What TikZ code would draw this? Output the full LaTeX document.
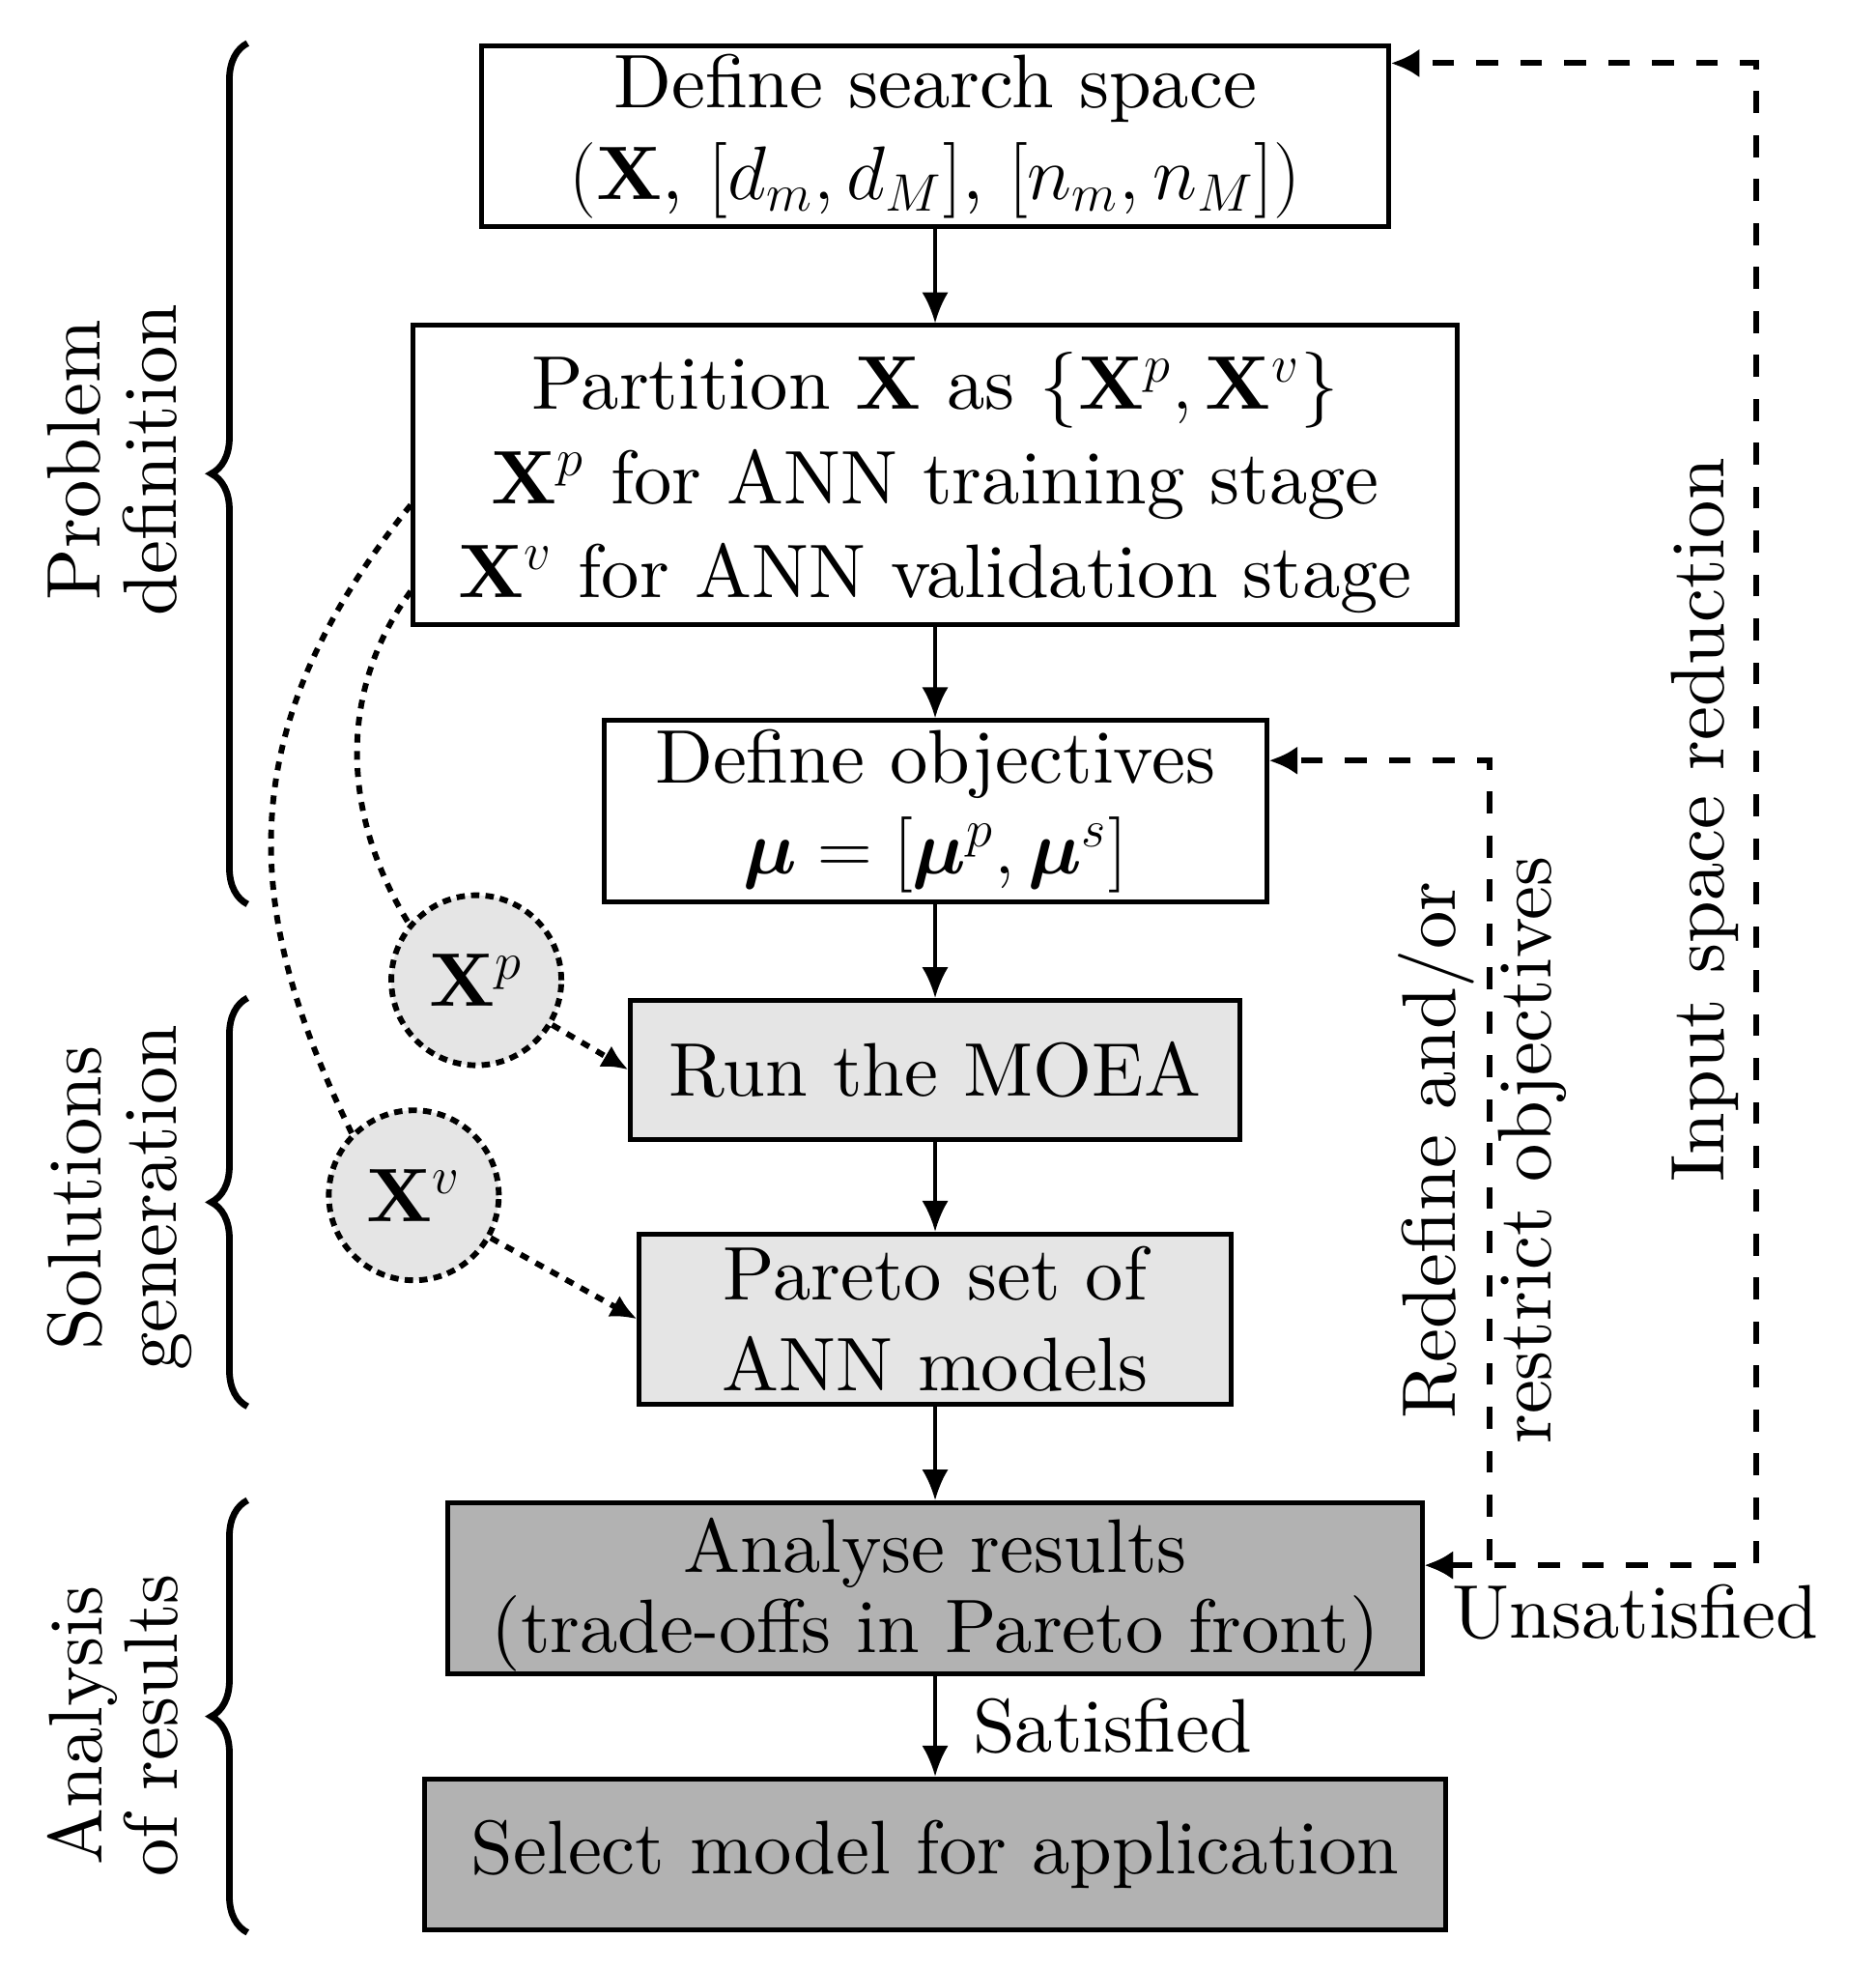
\documentclass[tikz,border=0pt]{standalone}
\usepackage{amsmath, amssymb}
\usepackage{fontspec}
\setmainfont{lmroman10-regular.otf}[BoldFont=lmroman10-bold.otf]
\usetikzlibrary{positioning, arrows.meta, decorations.pathreplacing}
\newcommand{\figfont}{\fontsize{17.28}{20.8}\selectfont}

\begin{document}
\begin{tikzpicture}[font=\figfont,
    box/.style={draw, line width=1.1pt, align=center, inner sep=0pt},
    lightbox/.style={box, fill=gray!20},
    darkbox/.style={box, fill=black!30},
    arrow/.style={-{Latex[length=7pt,width=6pt]}, line width=0.8pt},
    feedback/.style={{Latex[length=6.5pt,width=6.5pt]}-{Latex[length=6.5pt,width=6.5pt]}, line width=1.3pt, dash pattern=on 5pt off 5pt},
    subset/.style={circle, draw, fill=gray!20, line width=1.3pt, dash pattern=on 1.9pt off 1.4pt, minimum size=1.36cm, inner sep=0pt},
    dotlink/.style={line width=1.3pt, dash pattern=on 2pt off 1.9pt},
    brace/.style={decorate, decoration={brace, amplitude=0.29cm}, line width=1.5pt},
    stage/.style={rotate=90, anchor=north, inner sep=0pt, align=center}]

    \useasboundingbox (0,0) rectangle (15,-15.74);

    % main flow
    \node[box, minimum width=7.25cm, minimum height=1.45cm] (search) at (7.48,-1.09)
        {Define search space\\$(\mathbf{X}$, $[d_m,d_M]$, $[n_m,n_M])$};
    \node[box, below=0.75cm of search, minimum width=8.35cm, minimum height=2.39cm, text depth=-1.5pt] (partition)
        {Partition $\mathbf{X}$ as $\{\mathbf{X}^p,\mathbf{X}^v\}$\\[0.6pt]
         $\mathbf{X}^p$ for ANN training stage\\[0.6pt]
         $\mathbf{X}^v$ for ANN validation stage};
    \node[box, below=0.73cm of partition, minimum width=5.3cm, minimum height=1.45cm] (objectives)
        {Define objectives\\$\boldsymbol{\mu}=[\boldsymbol{\mu}^p,\boldsymbol{\mu}^s]$};
    \node[lightbox, below=0.75cm of objectives, minimum width=4.87cm, minimum height=1.11cm] (moea)
        {Run the MOEA};
    \node[lightbox, below=0.72cm of moea, minimum width=4.73cm, minimum height=1.36cm] (pareto)
        {Pareto set of\\ANN models};
    \node[darkbox, below=0.75cm of pareto, minimum width=7.79cm, minimum height=1.37cm, text depth=1.4pt] (analyse)
        {Analyse results\\[-2.5pt](trade-offs in Pareto front)};
    \node[darkbox, below=0.8cm of analyse, minimum width=8.17cm, minimum height=1.21cm] (select)
        {Select model for application};

    \foreach \a/\b in {search/partition, partition/objectives, objectives/moea, moea/pareto, pareto/analyse} {
        \draw[arrow] (\a) -- (\b);
    }
    \draw[arrow] (analyse) -- node[right=0.17cm] (sat) {Satisfied} (select);

    % data subsets
    \node[subset] (xp) at (3.81,-7.84) {$\mathbf{X}^p$};
    \node[subset] (xv) at (3.31,-9.56) {$\mathbf{X}^v$};
    \draw[dotlink] ([yshift=-0.24cm]partition.west) .. controls +(231:2.4) and +(116:1.9) .. (xv.135);
    \draw[dotlink] ([yshift=-0.93cm]partition.west) .. controls +(234:1.1) and +(122:0.9) .. (xp.140);
    \draw[dotlink, -{Latex[length=6pt,width=5.5pt]}] (xp) -- (moea.west);
    \draw[dotlink, -{Latex[length=6pt,width=5.5pt]}] (xv) -- (pareto.west);

    % feedback loops
    \coordinate (fb) at ([yshift=-0.52cm]analyse.north east);
    \draw[feedback] (fb) -- ++(0.52,0) |- ([yshift=-0.34cm]objectives.north east);
    \draw[feedback] (fb) -- ++(2.65,0) |- ([yshift=-0.16cm]search.north east);
    \node[below right=0.03cm and 0.1cm of fb] (unsat) {Unsatisfied};
    \node[stage] (redef) at (11.18,-9.2) {Redefine and/or\\[1pt]restrict objectives};
    \node[stage] (reduce) at (13.36,-6.56) {Input space reduction};

    % stages
    \coordinate (bracex) at (1.98,0);
    \foreach \t/\b in {search/objectives, moea/pareto, analyse/select} {
        \draw[brace] (\b.south -| bracex) -- (\t.north -| bracex);
    }
    \node[stage] (probdef) at (0.37,-3.68) {Problem\\[-3.5pt]definition};
    \node[stage] (solgen) at (0.37,-9.58) {Solutions\\[-3.5pt]generation};
    \node[stage] (results) at (0.37,-13.8) {Analysis\\[-3.5pt]of results};
\end{tikzpicture}
\end{document}
